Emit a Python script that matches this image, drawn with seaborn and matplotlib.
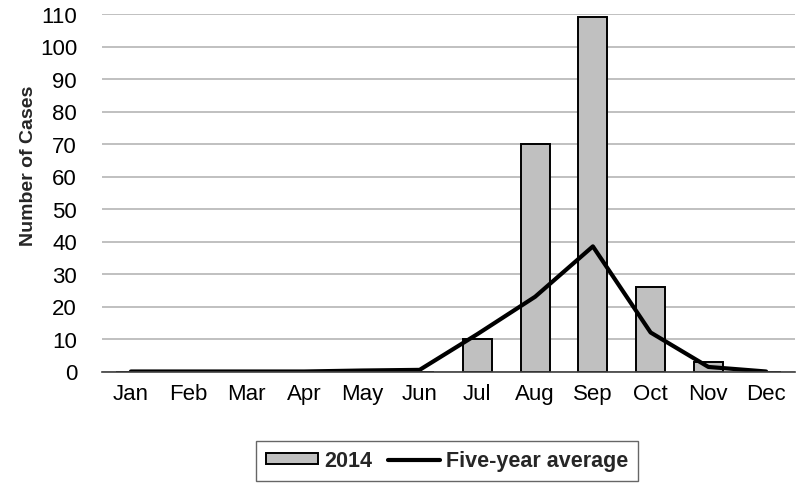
import numpy as np
import pandas as pd
import matplotlib
matplotlib.use("Agg")
import matplotlib.pyplot as plt
from matplotlib.patches import Patch
from matplotlib.lines import Line2D
import seaborn as sns

months = ["Jan", "Feb", "Mar", "Apr", "May", "Jun",
          "Jul", "Aug", "Sep", "Oct", "Nov", "Dec"]
cases_2014 = [0, 0, 0, 0, 0, 0, 10, 70, 109, 26, 3, 0]
five_year_avg = [0, 0, 0, 0, 0.3, 0.5, 11.5, 23, 38.5, 12, 1.4, 0]
y_ticks = list(range(0, 111, 10))

sns.set_theme(style="white")
plt.rcParams["font.family"] = ["Liberation Sans", "DejaVu Sans"]

df = pd.DataFrame({"month": months, "cases": cases_2014,
                   "avg": five_year_avg, "pos": np.arange(len(months))})

W, H = 796, 489
left, right, bottom, top = 102, 795, 372.5, 15
fig = plt.figure(figsize=(W / 100, H / 100), dpi=100)
ax = fig.add_axes([left / W, 1 - bottom / H, (right - left) / W, (bottom - top) / H])

sns.barplot(data=df, x="month", y="cases", color="#c0c0c0", saturation=1,
            edgecolor="black", linewidth=1.4, width=0.5, ax=ax, zorder=3)
sns.lineplot(data=df, x="pos", y="avg", color="black", linewidth=3,
             sort=False, ax=ax, zorder=4)

ax.set_xlim(-0.5, len(months) - 0.5)
ax.set_ylim(0, 110)
ax.set_yticks(y_ticks)
ax.set_xticks(np.arange(len(months)))
ax.set_xticklabels(months)
ax.tick_params(axis="both", length=0, labelsize=16, colors="black")
ax.tick_params(axis="y", pad=18)
ax.tick_params(axis="x", pad=8)
ax.yaxis.grid(True, color="#c0c0c0", linewidth=1.4)
ax.set_axisbelow(True)
for s in ["top", "right", "left"]:
    ax.spines[s].set_visible(False)
ax.spines["bottom"].set_color("#404040")
ax.spines["bottom"].set_linewidth(1.2)
ax.spines["bottom"].set_zorder(5)
ax.set_xlabel("")
ax.set_ylabel("Number of Cases", fontsize=14, fontweight="bold")
ax.yaxis.set_label_coords((37 - left) / (right - left), (bottom - 166) / (bottom - top))

handles = [Patch(facecolor="#c0c0c0", edgecolor="black", linewidth=1.4),
           Line2D([0], [0], color="black", linewidth=3)]
leg = fig.legend(handles, ["2014", "Five-year average"], loc="center",
                 bbox_to_anchor=(447 / W, 1 - 462 / H), ncol=2,
                 frameon=True, fancybox=False, handlelength=2.4,
                 handleheight=0.4, handletextpad=0.28, columnspacing=0.75,
                 borderpad=0.45, prop={"weight": "bold", "size": 15.5})
leg.get_frame().set_edgecolor("#404040")
leg.get_frame().set_linewidth(1.0)

fig.savefig("out.png", dpi=100)
